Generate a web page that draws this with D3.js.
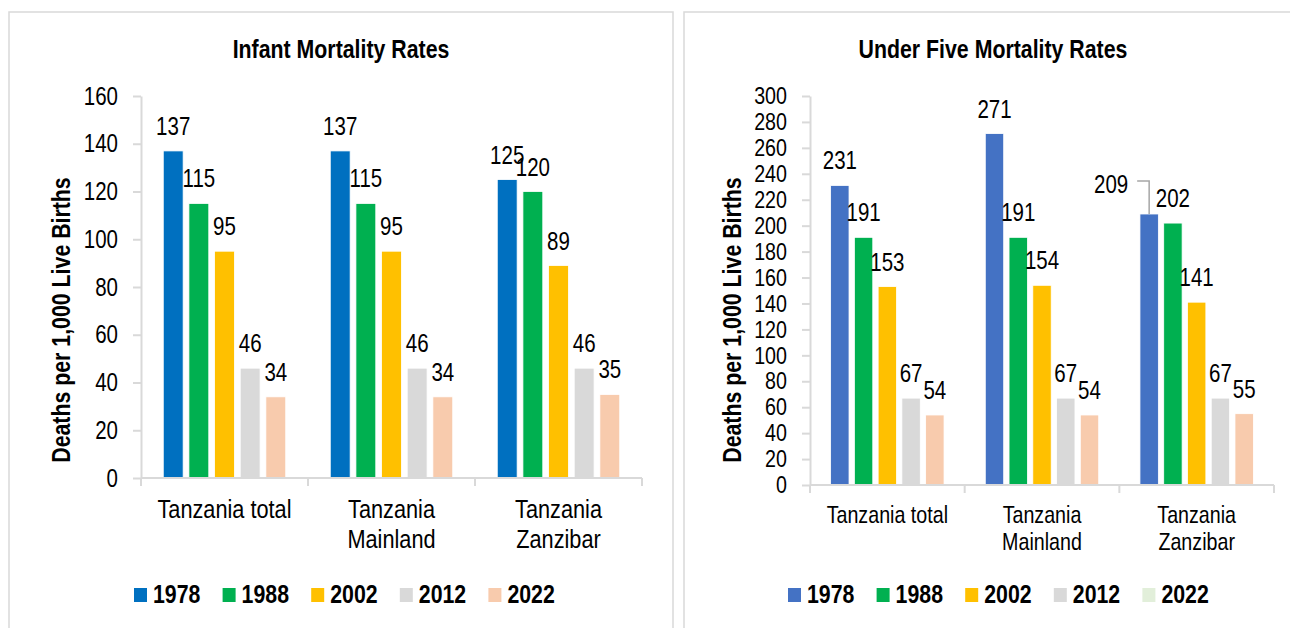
<!DOCTYPE html>
<html>
<head>
<meta charset="utf-8">
<script src="https://cdn.jsdelivr.net/npm/d3@7"></script>
<style>
  body { margin: 0; background: #fff; }
  svg { display: block; }
  text { font-family: "Liberation Sans", Arial, sans-serif; fill: #000; }
</style>
</head>
<body>
<svg id="chart" width="1290" height="628"></svg>
<script>
// categories and series
var categories = ["Tanzania total", "Tanzania Mainland", "Tanzania Zanzibar"];
var years = ["1978", "1988", "2002", "2012", "2022"];

// infant mortality (deaths per 1,000 live births)
var imr1978 = [137, 137, 125];
var imr1988 = [115, 115, 120];
var imr2002 = [95, 95, 89];
var imr2012 = [46, 46, 46];
var imr2022 = [34, 34, 35];

// under five mortality
var u5mr1978 = [231, 271, 209];
var u5mr1988 = [191, 191, 202];
var u5mr2002 = [153, 154, 141];
var u5mr2012 = [67, 67, 67];
var u5mr2022 = [54, 54, 55];

var imrTicks = [0, 20, 40, 60, 80, 100, 120, 140, 160];
var u5mrTicks = [0, 20, 40, 60, 80, 100, 120, 140, 160, 180, 200, 220, 240, 260, 280, 300];

var svg = d3.select("#chart");

// no Arial Narrow here, so squeeze the sans horizontally
var NARROW = 0.82;
function condense(sel) {
    sel.each(function() {
        var t = d3.select(this);
        var x = +t.attr("x") || 0, y = +t.attr("y") || 0;
        var tr = t.attr("transform") || "";
        t.attr("x", null).attr("y", null)
            .attr("transform", tr + " translate(" + x + "," + y + ") scale(" + NARROW + ",1)");
    });
}

function drawPanel(cfg) {
    var g = svg.append("g");

    // panel frame
    g.append("rect")
        .attr("x", cfg.frame[0]).attr("y", cfg.frame[1])
        .attr("width", cfg.frame[2]).attr("height", cfg.frame[3])
        .attr("fill", "#fff").attr("stroke", "#d9d9d9").attr("stroke-width", 1.5);

    g.append("text")
        .attr("x", cfg.titleX).attr("y", 58)
        .attr("text-anchor", "middle")
        .style("font-size", "26px").style("font-weight", "bold")
        .text(cfg.title);

    var y = d3.scaleLinear().domain([0, d3.max(cfg.ticks)]).range([cfg.bottom, cfg.top]);
    var x0 = d3.scaleBand().domain(categories).range([cfg.left, cfg.right]).padding(0);
    var x1 = d3.scaleBand().domain(years).range([0, x0.bandwidth()])
        .paddingInner(0.225).paddingOuter(0.868);

    // y axis
    var yAxis = g.append("g")
        .attr("transform", "translate(" + cfg.left + ",0)")
        .call(d3.axisLeft(y).tickValues(cfg.ticks).tickSize(8).tickPadding(15).tickSizeOuter(0));
    yAxis.attr("font-family", null).attr("font-size", null);
    yAxis.select(".domain").attr("stroke", "#d9d9d9").attr("stroke-width", 2);
    yAxis.selectAll(".tick line").attr("stroke", "#d9d9d9").attr("stroke-width", 2);
    yAxis.selectAll(".tick text")
        .attr("fill", "#000")
        .style("font-size", cfg.tickFont + "px");

    // y axis title
    g.append("text")
        .attr("transform", "translate(" + cfg.yTitleX + ",320) rotate(-90)")
        .attr("text-anchor", "middle")
        .style("font-size", "26px").style("font-weight", "bold")
        .text("Deaths per 1,000 Live Births");

    // bars
    var groups = g.selectAll(".grp")
        .data(categories)
        .enter().append("g")
        .attr("transform", function(d) { return "translate(" + x0(d) + ",0)"; });

    function rows(d, i) {
        return years.map(function(yr, k) { return {year: yr, k: k, ci: i, value: cfg.series[k][i]}; });
    }

    groups.selectAll("rect")
        .data(rows)
        .enter().append("rect")
        .attr("x", function(d) { return x1(d.year); })
        .attr("width", x1.bandwidth())
        .attr("y", function(d) { return y(d.value); })
        .attr("height", function(d) { return cfg.bottom - y(d.value); })
        .attr("fill", function(d) { return cfg.colors[d.k]; })
        .attr("stroke", "#fff").attr("stroke-width", 0.8);

    // x axis
    var xAxis = g.append("g")
        .attr("transform", "translate(0," + cfg.bottom + ")");
    xAxis.append("line")
        .attr("x1", cfg.left).attr("x2", cfg.right)
        .attr("stroke", "#d9d9d9").attr("stroke-width", 2);
    var bounds = categories.map(function(c) { return x0(c); }).concat([cfg.right]);
    xAxis.selectAll(".xt").data(bounds).enter().append("line")
        .attr("x1", function(d) { return d; }).attr("x2", function(d) { return d; })
        .attr("y1", 0).attr("y2", 8)
        .attr("stroke", "#d9d9d9").attr("stroke-width", 2);

    // category labels, the last two wrap onto two lines
    categories.forEach(function(c, i) {
        var lines = (i === 0) ? [c] : [c.split(" ")[0], c.split(" ").slice(1).join(" ")];
        lines.forEach(function(l, j) {
            g.append("text")
                .attr("text-anchor", "middle")
                .style("font-size", cfg.catFont + "px")
                .attr("x", x0(c) + x0.bandwidth() / 2)
                .attr("y", cfg.catY + j * cfg.catLine)
                .text(l);
        });
    });

    // value labels
    function isMoved(d) { return cfg.moved && cfg.moved.k === d.k && cfg.moved.ci === d.ci; }
    groups.selectAll(".val")
        .data(rows)
        .enter().append("text")
        .attr("text-anchor", "middle")
        .style("font-size", "25px")
        .attr("x", function(d) {
            return x1(d.year) + x1.bandwidth() / 2 + (isMoved(d) ? cfg.moved.dx : 0);
        })
        .attr("y", function(d) {
            return y(d.value) - 16 + (isMoved(d) ? cfg.moved.dy : 0);
        })
        .text(function(d) { return d.value; });

    // leader line for the label that was moved aside
    if (cfg.moved) {
        var m = cfg.moved;
        var bx = x0(categories[m.ci]) + x1(years[m.k]) + x1.bandwidth() / 2;
        var by = y(cfg.series[m.k][m.ci]);
        g.append("path")
            .attr("d", "M" + (bx - 12) + "," + (by - 33) + "H" + bx + "V" + by)
            .attr("fill", "none").attr("stroke", "#a6a6a6").attr("stroke-width", 1.5);
    }

    // legend
    var leg = g.selectAll(".leg").data(years).enter().append("g")
        .attr("transform", function(d, i) { return "translate(" + (cfg.legendX + i * 88.6) + ",588)"; });
    leg.append("rect")
        .attr("width", 13).attr("height", 14)
        .attr("fill", function(d, i) { return cfg.legendColors[i]; });
    leg.append("text")
        .attr("x", 19).attr("y", 15)
        .style("font-size", "26px").style("font-weight", "bold")
        .text(function(d) { return d; });
}

drawPanel({
    frame: [9, 12, 664, 640],
    title: "Infant Mortality Rates",
    titleX: 341,
    ticks: imrTicks,
    series: [imr1978, imr1988, imr2002, imr2012, imr2022],
    colors: ["#0070c0", "#00b050", "#ffc000", "#d9d9d9", "#f8cbad"],
    legendColors: ["#0070c0", "#00b050", "#ffc000", "#d9d9d9", "#f8cbad"],
    left: 141, right: 642, top: 96, bottom: 478,
    tickFont: 25, catFont: 26.5, catY: 518, catLine: 30,
    yTitleX: 70,
    legendX: 134
});

drawPanel({
    frame: [684, 12, 640, 640],
    title: "Under Five Mortality Rates",
    titleX: 993,
    ticks: u5mrTicks,
    series: [u5mr1978, u5mr1988, u5mr2002, u5mr2012, u5mr2022],
    colors: ["#4472c4", "#00b050", "#ffc000", "#d9d9d9", "#f8cbad"],
    legendColors: ["#4472c4", "#00b050", "#ffc000", "#d9d9d9", "#e2efda"],
    left: 810, right: 1274, top: 96, bottom: 485,
    tickFont: 24, catFont: 24, catY: 523, catLine: 27,
    yTitleX: 741,
    legendX: 788,
    moved: {k: 0, ci: 2, dx: -38, dy: -5}
});

svg.selectAll("text").call(condense);
</script>
</body>
</html>
